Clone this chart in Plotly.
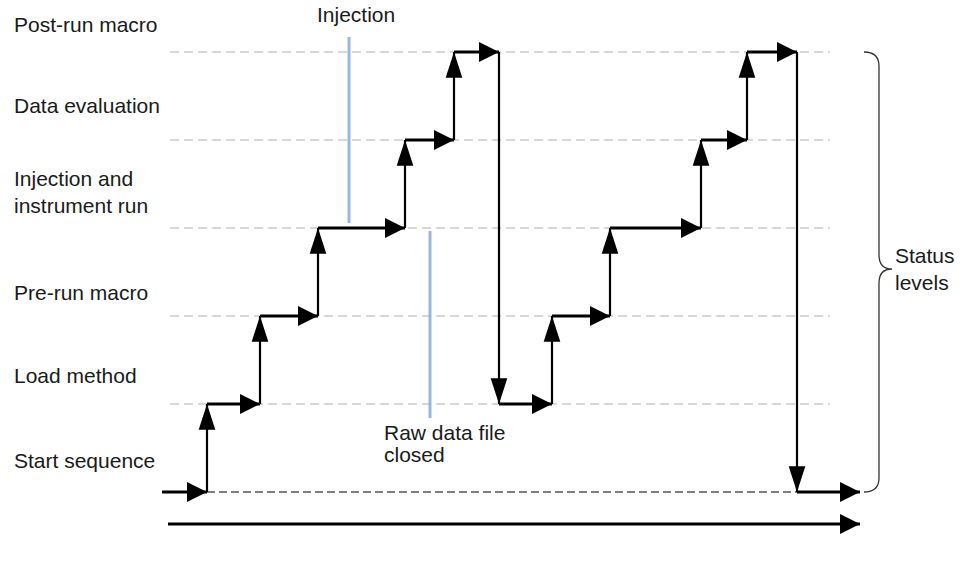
import plotly.graph_objects as go

W, H = 965, 562

# status levels, bottom to top
status_labels = [
    "Start sequence",
    "Load method",
    "Pre-run macro",
    "Injection and<br>instrument run",
    "Data evaluation",
    "Post-run macro",
]

# status changes along the time axis
t_start, t_end = 162, 860
change_t = [207, 260, 318, 405, 454, 499, 552, 610, 701, 747, 797]
change_level = [1, 2, 3, 4, 5, 1, 2, 3, 4, 5, 0]

# events marked with blue lines
injection_t = 349
file_closed_t = 430

# time arrow at the bottom
time_axis_t = [168, 860]

# --- layout helpers: level 0 sits at 492 px, one level = 88 px
LV0_PX, LV_PX = 492, 88


def lv(py):
    return (LV0_PX - py) / LV_PX


def paper_y(py):
    return 1 - py / H


# build the step path
h_x, h_y, v_x, v_y = [], [], [], []
hh_x, hh_y, vh_x, vh_y, vh_ang = [], [], [], [], []
prev_t, prev_lv = t_start, 0
for t, l in zip(change_t, change_level):
    h_x += [prev_t, t, None]
    h_y += [prev_lv, prev_lv, None]
    hh_x.append(t)
    hh_y.append(prev_lv)
    v_x += [t, t, None]
    v_y += [prev_lv, l, None]
    vh_x.append(t)
    vh_y.append(l)
    vh_ang.append(0 if l > prev_lv else 180)
    prev_t, prev_lv = t, l
h_x += [prev_t, t_end]
h_y += [prev_lv, prev_lv]
hh_x.append(t_end)
hh_y.append(prev_lv)

axis_lv = lv(524)

fig = go.Figure()

# time arrow
fig.add_trace(go.Scatter(x=time_axis_t, y=[axis_lv, axis_lv], mode='lines',
                         line=dict(color='black', width=3), hoverinfo='skip'))
hh_x.append(time_axis_t[1])
hh_y.append(axis_lv)

fig.add_trace(go.Scatter(x=v_x, y=v_y, mode='lines',
                         line=dict(color='black', width=2.2), hoverinfo='skip'))
fig.add_trace(go.Scatter(x=h_x, y=h_y, mode='lines',
                         line=dict(color='black', width=2.8), hoverinfo='skip'))
fig.add_trace(go.Scatter(x=vh_x, y=vh_y, mode='markers', hoverinfo='skip',
                         marker=dict(symbol='arrow', size=27, angle=vh_ang,
                                     color='black', line=dict(width=0))))
fig.add_trace(go.Scatter(x=hh_x, y=hh_y, mode='markers', hoverinfo='skip',
                         marker=dict(symbol='arrow-right', size=20,
                                     color='black', line=dict(width=0))))

shapes = []
# gray dashed level lines
for l in range(1, len(status_labels)):
    shapes.append(dict(type='line', xref='x', yref='y', x0=170, x1=830, y0=l, y1=l,
                       line=dict(color='#cccccc', width=1.5, dash='9px,5px'),
                       layer='below'))
# black dashed baseline
shapes.append(dict(type='line', xref='x', yref='y', x0=change_t[0], x1=change_t[-1],
                   y0=0, y1=0, line=dict(color='black', width=1, dash='8px,4px'),
                   layer='below'))
# blue event lines
shapes.append(dict(type='line', xref='x', yref='y', x0=injection_t, x1=injection_t,
                   y0=lv(223), y1=lv(37), line=dict(color='#96b9e1', width=3),
                   layer='below'))
shapes.append(dict(type='line', xref='x', yref='y', x0=file_closed_t, x1=file_closed_t,
                   y0=lv(418), y1=lv(231), line=dict(color='#96b9e1', width=3),
                   layer='below'))

# brace on the right
top, bot = max(change_level), min(change_level)
mid = lv(269)
r = 14 / LV_PX
bx, bx0, bxc = 879, 864, 892
brace = (f"M{bx0},{top} Q{bx},{top} {bx},{top - r} L{bx},{mid + r} "
         f"Q{bx},{mid} {bxc},{mid} Q{bx},{mid} {bx},{mid - r} "
         f"L{bx},{bot + r} Q{bx},{bot} {bx0},{bot}")
shapes.append(dict(type='path', xref='x', yref='y', path=brace,
                   line=dict(color='#333333', width=1.3)))

font = dict(family='Liberation Sans', size=21, color='#1a1a1a')
annotations = []
label_px = [460, 375, 292, 192, 106, 24.5]
for text, py in zip(status_labels, label_px):
    annotations.append(dict(text=text, x=12, y=paper_y(py), xref='x', yref='paper',
                            xanchor='left', yanchor='middle', align='left',
                            showarrow=False, font=font))
for text, x, py in [("Injection", 315, 15), ("Raw data file", 382, 432),
                    ("closed", 382, 454), ("Status<br>levels", 893, 269)]:
    annotations.append(dict(text=text, x=x, y=paper_y(py), xref='x', yref='paper',
                            xanchor='left', yanchor='middle', align='left',
                            showarrow=False, font=font))

fig.update_layout(
    width=W, height=H,
    margin=dict(l=0, r=0, t=0, b=0),
    paper_bgcolor='white', plot_bgcolor='white',
    showlegend=False,
    xaxis=dict(range=[0, W], visible=False, fixedrange=True),
    yaxis=dict(range=[lv(H), lv(0)], visible=False, fixedrange=True),
    shapes=shapes,
    annotations=annotations,
)

fig.write_html("out.html", config=dict(displayModeBar=False),
               post_script="document.body.style.margin='0';")
